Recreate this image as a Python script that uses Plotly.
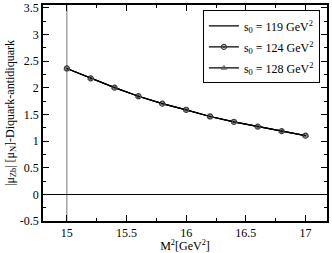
import plotly.graph_objects as go

m2 = [15.0, 15.2, 15.4, 15.6, 15.8, 16.0, 16.2, 16.4, 16.6, 16.8, 17.0]
mu_119 = [2.36, 2.175, 2.0, 1.84, 1.70, 1.585, 1.46, 1.36, 1.27, 1.185, 1.10]
mu_124 = [2.36, 2.175, 2.0, 1.84, 1.70, 1.585, 1.46, 1.36, 1.27, 1.185, 1.10]
mu_128 = [2.36, 2.175, 2.0, 1.84, 1.70, 1.585, 1.46, 1.36, 1.27, 1.185, 1.10]
x_ticks = [15, 15.5, 16, 16.5, 17]
y_ticks = [-0.5, 0, 0.5, 1, 1.5, 2, 2.5, 3, 3.5]

FONT = "Liberation Serif"

fig = go.Figure()
fig.add_trace(go.Scatter(x=m2, y=mu_119, mode="lines", legendgroup="a",
                         line=dict(color="black", width=1.2),
                         name="s<sub>0</sub> = 119 GeV<sup>2</sup>"))
fig.add_trace(go.Scatter(x=m2, y=mu_124, mode="lines+markers", legendgroup="b",
                         line=dict(color="black", width=1.2),
                         marker=dict(symbol="circle-open-dot", size=5, color="#333",
                                     line=dict(width=1.2, color="#333")),
                         name="s<sub>0</sub> = 124 GeV<sup>2</sup>"))
fig.add_trace(go.Scatter(x=m2, y=mu_128, mode="lines+markers", legendgroup="c",
                         line=dict(color="black", width=1.2),
                         marker=dict(symbol="triangle-up-open", size=5, color="#555",
                                     line=dict(width=1, color="#555")),
                         name="s<sub>0</sub> = 128 GeV<sup>2</sup>"))

fig.add_vline(x=15, line=dict(color="#777", width=1), layer="below")

axis_common = dict(
    showline=True, linecolor="black", linewidth=1.5, mirror="ticks",
    ticks="inside", ticklen=6, tickwidth=1, tickcolor="black",
    showgrid=False, automargin=False,
    tickfont=dict(family=FONT, size=12, color="black"),
)

fig.update_xaxes(range=[14.8, 17.18], tickvals=x_ticks,
                 ticktext=[str(v) for v in x_ticks],
                 minor=dict(dtick=0.25, ticks="inside", ticklen=3, tickcolor="black"),
                 zeroline=False,
                 title=dict(text="M<sup>2</sup>[GeV<sup>2</sup>]",
                            font=dict(family=FONT, size=12, color="black"), standoff=0),
                 **axis_common)
fig.update_yaxes(range=[-0.5, 3.55], tickvals=y_ticks,
                 ticktext=[str(v) for v in y_ticks],
                 minor=dict(dtick=0.25, ticks="inside", ticklen=3, tickcolor="black"),
                 zeroline=True, zerolinecolor="black", zerolinewidth=1,
                 title=dict(text="|μ<sub>Zb</sub>| [μ<sub>N</sub>]-Diquark-antidiquark",
                            font=dict(family=FONT, size=12, color="black"), standoff=3),
                 **axis_common)

fig.update_layout(
    width=332, height=253,
    margin=dict(l=43, r=5, t=5, b=32),
    plot_bgcolor="white", paper_bgcolor="white",
    font=dict(family=FONT, size=12, color="black"),
    legend=dict(x=0.563, y=0.975, xanchor="left", yanchor="top",
                bgcolor="white", bordercolor="black", borderwidth=1,
                font=dict(family=FONT, size=12, color="black"),
                itemwidth=30, tracegroupgap=2),
    showlegend=True,
)

fig.write_html("out.html", config={"displayModeBar": False},
               post_script="document.body.style.margin='0';document.body.style.padding='0';")
